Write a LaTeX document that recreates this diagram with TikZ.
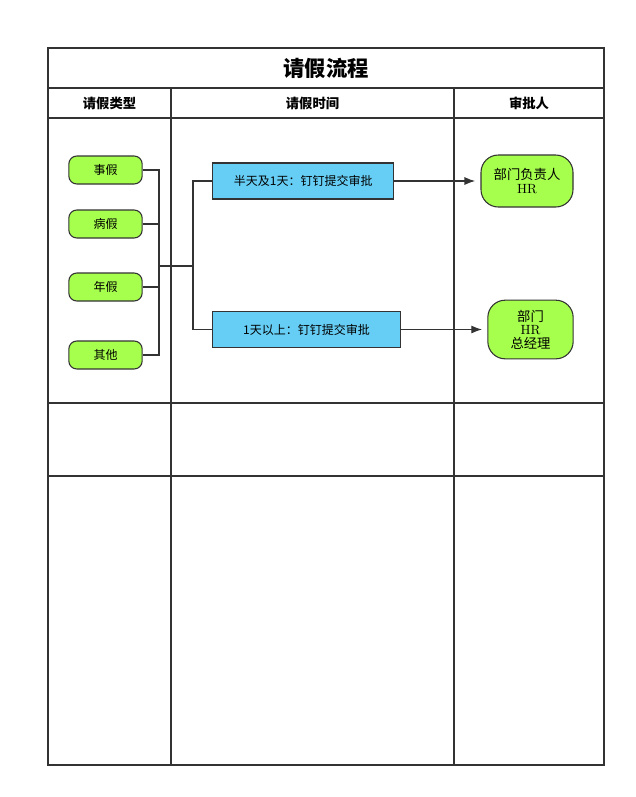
\documentclass[tikz,border=0pt]{standalone}
\usepackage{fontspec}
\newfontfamily\cjk{Noto Sans CJK SC}
\usetikzlibrary{arrows.meta}
\tikzstyle{leave}=[draw=black!80, thick, fill=green!50!yellow!70, rounded corners=6pt, minimum width=55pt, minimum height=21pt, font=\cjk\fontsize{9}{10}\selectfont]
\tikzstyle{procbox}=[draw=black!80, thick, fill=cyan!60, anchor=west, minimum height=27pt, inner xsep=8pt, font=\cjk\fontsize{9}{10}\selectfont]
\tikzstyle{role}=[draw=black!80, thick, fill=green!50!yellow!70, rounded corners=13pt, align=center, font=\fontsize{10}{10}\selectfont]
\tikzstyle{head}=[font=\cjk\bfseries\fontsize{10}{12}\selectfont]
\tikzstyle{link}=[draw=black!80, thick]

\begin{document}
\begin{tikzpicture}[x=0.75pt, y=-0.75pt]
  \useasboundingbox (0,0) rectangle (636,797);
  % Table
  \draw [thick, black!80] (48,48) rectangle (604,765);
  \draw [thick, black!80] (48,88) -- (604,88) (48,118) -- (604,118)
    (48,403) -- (604,403) (48,476) -- (604,476)
    (171,88) -- (171,765) (454,88) -- (454,765);
  \node [head, font=\cjk\bfseries\fontsize{16}{18}\selectfont] at (326,68) {请假流程};
  \node [head] at (109.5,103) {请假类型};
  \node [head] at (312.5,103) {请假时间};
  \node [head] at (529,103) {审批人};

  % Nodes
  \node (shi) [leave] at (105.5,170) {事假};
  \node (bing) [leave] at (105.5,224) {病假};
  \node (nian) [leave] at (105.5,287) {年假};
  \node (qita) [leave] at (105.5,355) {其他};
  \coordinate (join) at (193,266);
  \node (short) [procbox, minimum width=136pt] at (212,181) {半天及1天：钉钉提交审批};
  \node (long) [procbox, minimum width=141pt] at (212,329.5) {1天以上：钉钉提交审批};
  \node (mgr) [role, minimum width=69pt, minimum height=39pt] at (527,181) {{\cjk 部门负责人}\\HR};
  \node (boss) [role, minimum width=64pt, minimum height=44pt] at (530.5,329.5) {{\cjk 部门}\\HR\\{\cjk 总经理}};

  % Connectors
  \draw [link] (shi.east) -| (159,266) (bing.east) -| (159,266)
    (nian.east) -| (159,266) (qita.east) -| (159,266) -- (join);
  \draw [link] (join) |- (short.west);
  \draw [link] (join) |- (long.west);
  \draw [link, -{Latex[length=8pt]}] (short) -- ([xshift=-4pt]mgr.west);
  \draw [link, -{Latex[length=8pt]}] (long) -- ([xshift=-4pt]boss.west);
\end{tikzpicture}
\end{document}
